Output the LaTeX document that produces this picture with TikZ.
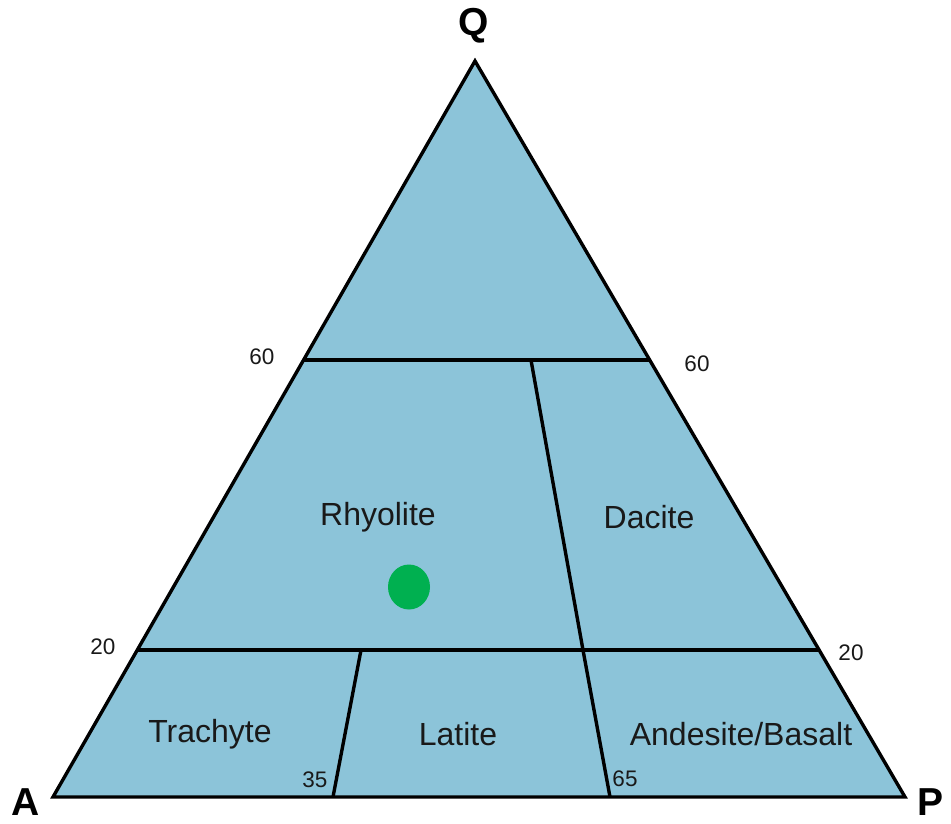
\documentclass[tikz,border=0pt]{standalone}
\usepackage{fontspec}
\setmainfont{Liberation Sans}
\usetikzlibrary{shapes.geometric}
\definecolor{fillblue}{HTML}{8CC4D9}
\definecolor{dotgreen}{HTML}{00B050}
\begin{document}
\begin{tikzpicture}[x=1pt,y=-1pt,
  edge/.style={line width=3.4pt,black},
  region/.style={font=\fontsize{32}{34}\selectfont,text=black!90},
  tick/.style={font=\fontsize{22.5}{24}\selectfont,text=black!90},
  corner/.style={font=\fontsize{39}{41}\selectfont\bfseries}]
\useasboundingbox (0,0) rectangle (951,823);
\coordinate (Q) at (475,61);
\coordinate (A) at (53,797);
\coordinate (P) at (905,797);
\coordinate (L60) at (303.6,360);
\coordinate (R60) at (649.7,360);
\coordinate (L20) at (137.4,650);
\coordinate (R20) at (819,650);
\coordinate (D1) at (531,360);
\coordinate (D2) at (583,650);
\coordinate (D3) at (610,797);
\coordinate (T1) at (361,650);
\coordinate (T2) at (333,797);
\fill[fillblue] (Q) -- (A) -- (P) -- cycle;
\draw[edge] (L60) -- (R60);
\draw[edge] (L20) -- (R20);
\draw[edge] (D1) -- (D2) -- (D3);
\draw[edge] (T1) -- (T2);
\draw[edge,line join=miter] (Q) -- (A) -- (P) -- cycle;
\node[ellipse,fill=dotgreen,minimum width=42pt,minimum height=45pt,inner sep=0pt] (dot) at (409,587) {};
\node[corner] (lq) at (474,26) {Q};
\node[corner] (la) at (26,802) {A};
\node[corner] (lp) at (930,802) {P};
\node[tick] (t60l) at (262,357) {60};
\node[tick] (t60r) at (697,364) {60};
\node[tick] (t20l) at (103,647) {20};
\node[tick] (t20r) at (851,653) {20};
\node[tick] (t35) at (315,780) {35};
\node[tick] (t65) at (625,779) {65};
\node[region] (rh) at (378,517) {Rhyolite};
\node[region] (da) at (649,517) {Dacite};
\node[region] (tr) at (210,734) {Trachyte};
\node[region] (la2) at (458,734) {Latite};
\node[region] (ab) at (741,734) {Andesite/Basalt};
\end{tikzpicture}
\end{document}
